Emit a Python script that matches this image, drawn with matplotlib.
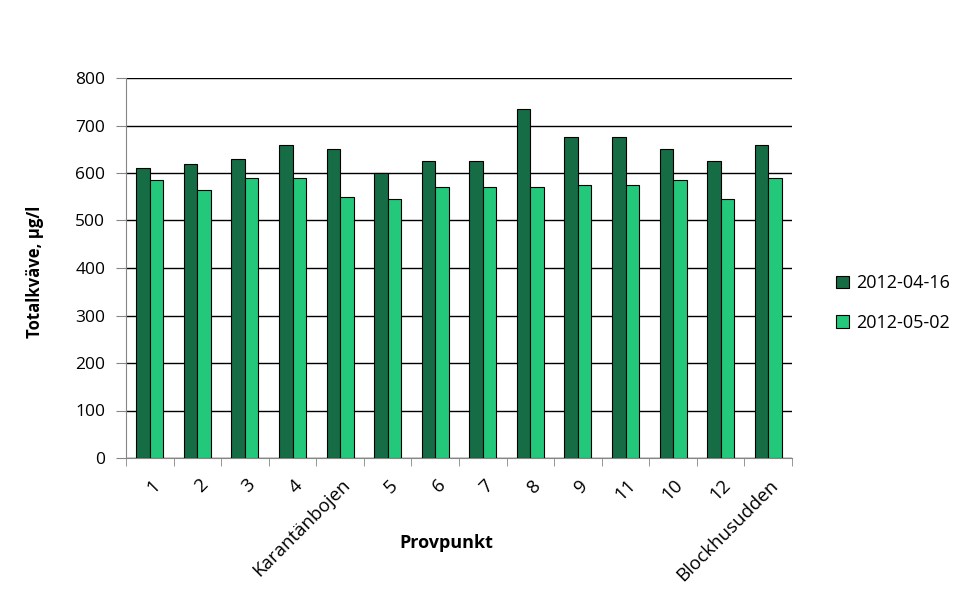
import matplotlib
matplotlib.use("Agg")
import matplotlib.pyplot as plt
import matplotlib.transforms as mtransforms
import numpy as np
from matplotlib.ticker import FixedLocator

categories = ["1", "2", "3", "4", "Karantänbojen", "5", "6", "7", "8", "9", "11", "10", "12", "Blockhusudden"]
series_names = ["2012-04-16", "2012-05-02"]
values_0416 = [610, 620, 630, 660, 650, 600, 625, 625, 735, 675, 675, 650, 625, 660]
values_0502 = [585, 565, 590, 590, 550, 545, 570, 570, 570, 575, 575, 585, 545, 590]
colors = ["#166C44", "#23C87B"]

plt.rcParams['font.family'] = ['Open Sans', 'DejaVu Sans']

fig = plt.figure(figsize=(9.8, 6.06), dpi=100)
ax = fig.add_axes([126/980, 1-458/606, (792-126)/980, (458-78)/606])

x = np.arange(len(categories))
w = 0.285
ax.bar(x - w/2, values_0416, w, color=colors[0], edgecolor="black", linewidth=0.8, label=series_names[0], zorder=3)
ax.bar(x + w/2, values_0502, w, color=colors[1], edgecolor="black", linewidth=0.8, label=series_names[1], zorder=3)

ax.set_xlim(-0.5, len(categories) - 0.5)
ax.set_ylim(0, 800)
ax.set_yticks(range(0, 801, 100))
ax.yaxis.grid(True, color="black", linewidth=1.0, zorder=0)
ax.set_axisbelow(True)

ax.set_xticks(x)
ax.set_xticklabels(categories, rotation=45, ha="right", va="top", rotation_mode="anchor", fontsize=13.5)
ax.tick_params(axis="x", which="major", length=0, pad=13)
offset = mtransforms.ScaledTranslation(1/100, 0, fig.dpi_scale_trans)
for lab in ax.get_xticklabels():
    lab.set_transform(lab.get_transform() + offset)
ax.xaxis.set_minor_locator(FixedLocator(np.arange(-0.5, len(categories), 1.0)))
ax.tick_params(axis="x", which="minor", length=6, color="#868686")
ax.tick_params(axis="y", labelsize=12.5, length=7, color="#868686", pad=8)

for s in ["top", "right"]:
    ax.spines[s].set_visible(False)
for s in ["left", "bottom"]:
    ax.spines[s].set_color("#868686")

ax.set_ylabel("Totalkväve, µg/l", fontsize=12, fontweight="bold", va="center")
ax.yaxis.set_label_coords((35-126)/666, 0.49)
ax.set_xlabel("Provpunkt", fontsize=13, fontweight="bold")
ax.xaxis.set_label_coords((446-126)/666, (458-543)/380)
ax.xaxis.label.set_va("center")

leg = fig.legend(loc="center left", bbox_to_anchor=(820/980, 1-303/606), frameon=False,
                 fontsize=13, handlelength=0.7, handleheight=0.7, labelspacing=1.2, handletextpad=0.4)
for h in leg.legend_handles:
    h.set_edgecolor("black")
    h.set_linewidth(0.8)

fig.savefig("out.png", dpi=100)
